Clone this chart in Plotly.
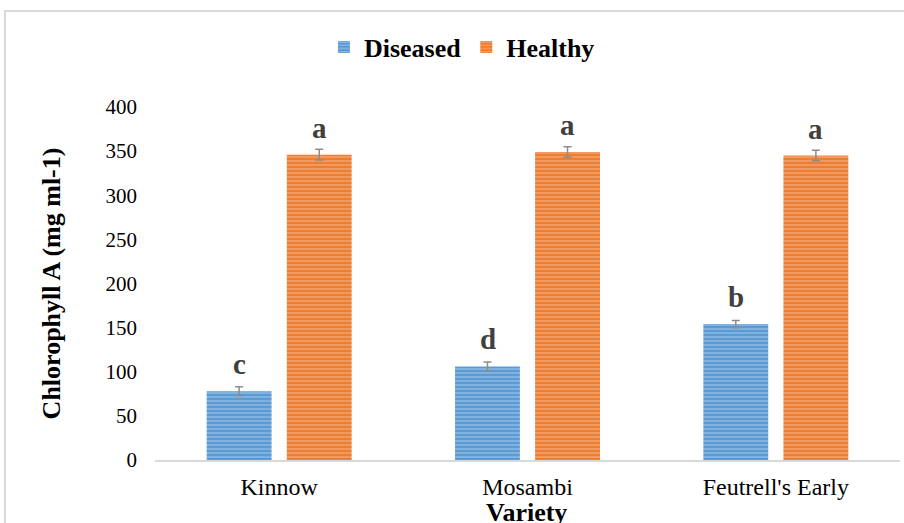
import plotly.graph_objects as go

categories = ["Kinnow", "Mosambi", "Feutrell's Early"]
diseased = [78, 106, 154]
healthy = [346, 349, 345]
diseased_err = [5, 5, 4]
healthy_err = [6, 6, 6]
diseased_letters = ["c", "d", "b"]
healthy_letters = ["a", "a", "a"]
y_ticks = [0, 50, 100, 150, 200, 250, 300, 350, 400]

SERIF = "Liberation Serif, Times New Roman, serif"

fig = go.Figure()
fig.add_trace(go.Bar(
    name="Diseased", x=categories, y=diseased,
    marker=dict(color="#5B9BD5", line=dict(width=0),
                pattern=dict(shape="-", fgcolor="#c6dcf1", bgcolor="#5B9BD5",
                             size=4, solidity=0.35, fillmode="overlay")),
    error_y=dict(type="data", array=diseased_err, color="#8c8c8c", thickness=1.5, width=4),
))
fig.add_trace(go.Bar(
    name="Healthy", x=categories, y=healthy,
    marker=dict(color="#ED7D31", line=dict(width=0),
                pattern=dict(shape="-", fgcolor="#f9cfb1", bgcolor="#ED7D31",
                             size=4, solidity=0.35, fillmode="overlay")),
    error_y=dict(type="data", array=healthy_err, color="#8c8c8c", thickness=1.5, width=4),
))

for cat, v, lt in zip(categories, diseased, diseased_letters):
    fig.add_annotation(x=cat, y=v, text=lt, showarrow=False, xshift=-40,
                       yanchor="bottom", yshift=9,
                       font=dict(family=SERIF, size=29, color="#404040", weight="bold"))
for cat, v, lt in zip(categories, healthy, healthy_letters):
    fig.add_annotation(x=cat, y=v, text=lt, showarrow=False, xshift=40,
                       yanchor="bottom", yshift=9,
                       font=dict(family=SERIF, size=29, color="#404040", weight="bold"))

# x axis title (placed as annotation so it can sit at the very bottom edge)
fig.add_annotation(xref="paper", yref="paper", x=0.4987, y=(460 - 512) / 353,
                   text="Variety", showarrow=False, xanchor="center", yanchor="middle",
                   font=dict(family=SERIF, size=26, color="#000000", weight="bold"))

# chart border
fig.add_shape(type="rect", xref="paper", yref="paper",
              x0=(5 - 155) / 745, x1=1.2, y0=-0.5, y1=(460 - 11) / 353,
              line=dict(color="#d9d9d9", width=2), fillcolor="rgba(0,0,0,0)", layer="below")

fig.update_layout(
    width=904, height=523,
    margin=dict(l=155, r=4, t=107, b=63),
    plot_bgcolor="white", paper_bgcolor="white",
    barmode="group", bargap=0.355, bargroupgap=0.19,
    font=dict(family=SERIF, color="#000000"),
    showlegend=True,
    legend=dict(orientation="h", x=0.412, xanchor="center", y=(460 - 47) / 353, yanchor="middle",
                font=dict(family=SERIF, size=26, color="#000000", weight="bold"),
                itemwidth=30, traceorder="normal"),
    xaxis=dict(showgrid=False, showline=True, linecolor="#d9d9d9", linewidth=2,
               automargin=False,
               tickfont=dict(family=SERIF, size=24, color="#000000"),
               ticks="", ticklabelstandoff=4),
    yaxis=dict(range=[0, 400], tickvals=y_ticks, showgrid=False, zeroline=False, showline=False,
               automargin=False,
               tickfont=dict(family=SERIF, size=21, color="#000000"),
               ticks="", ticklabelstandoff=17,
               title=dict(text="Chlorophyll A (mg ml-1)",
                          font=dict(family=SERIF, size=26, color="#000000", weight="bold"),
                          standoff=37)),
)

fig.write_html("out.html", config={"displayModeBar": False},
               post_script="document.body.style.margin='0';")
